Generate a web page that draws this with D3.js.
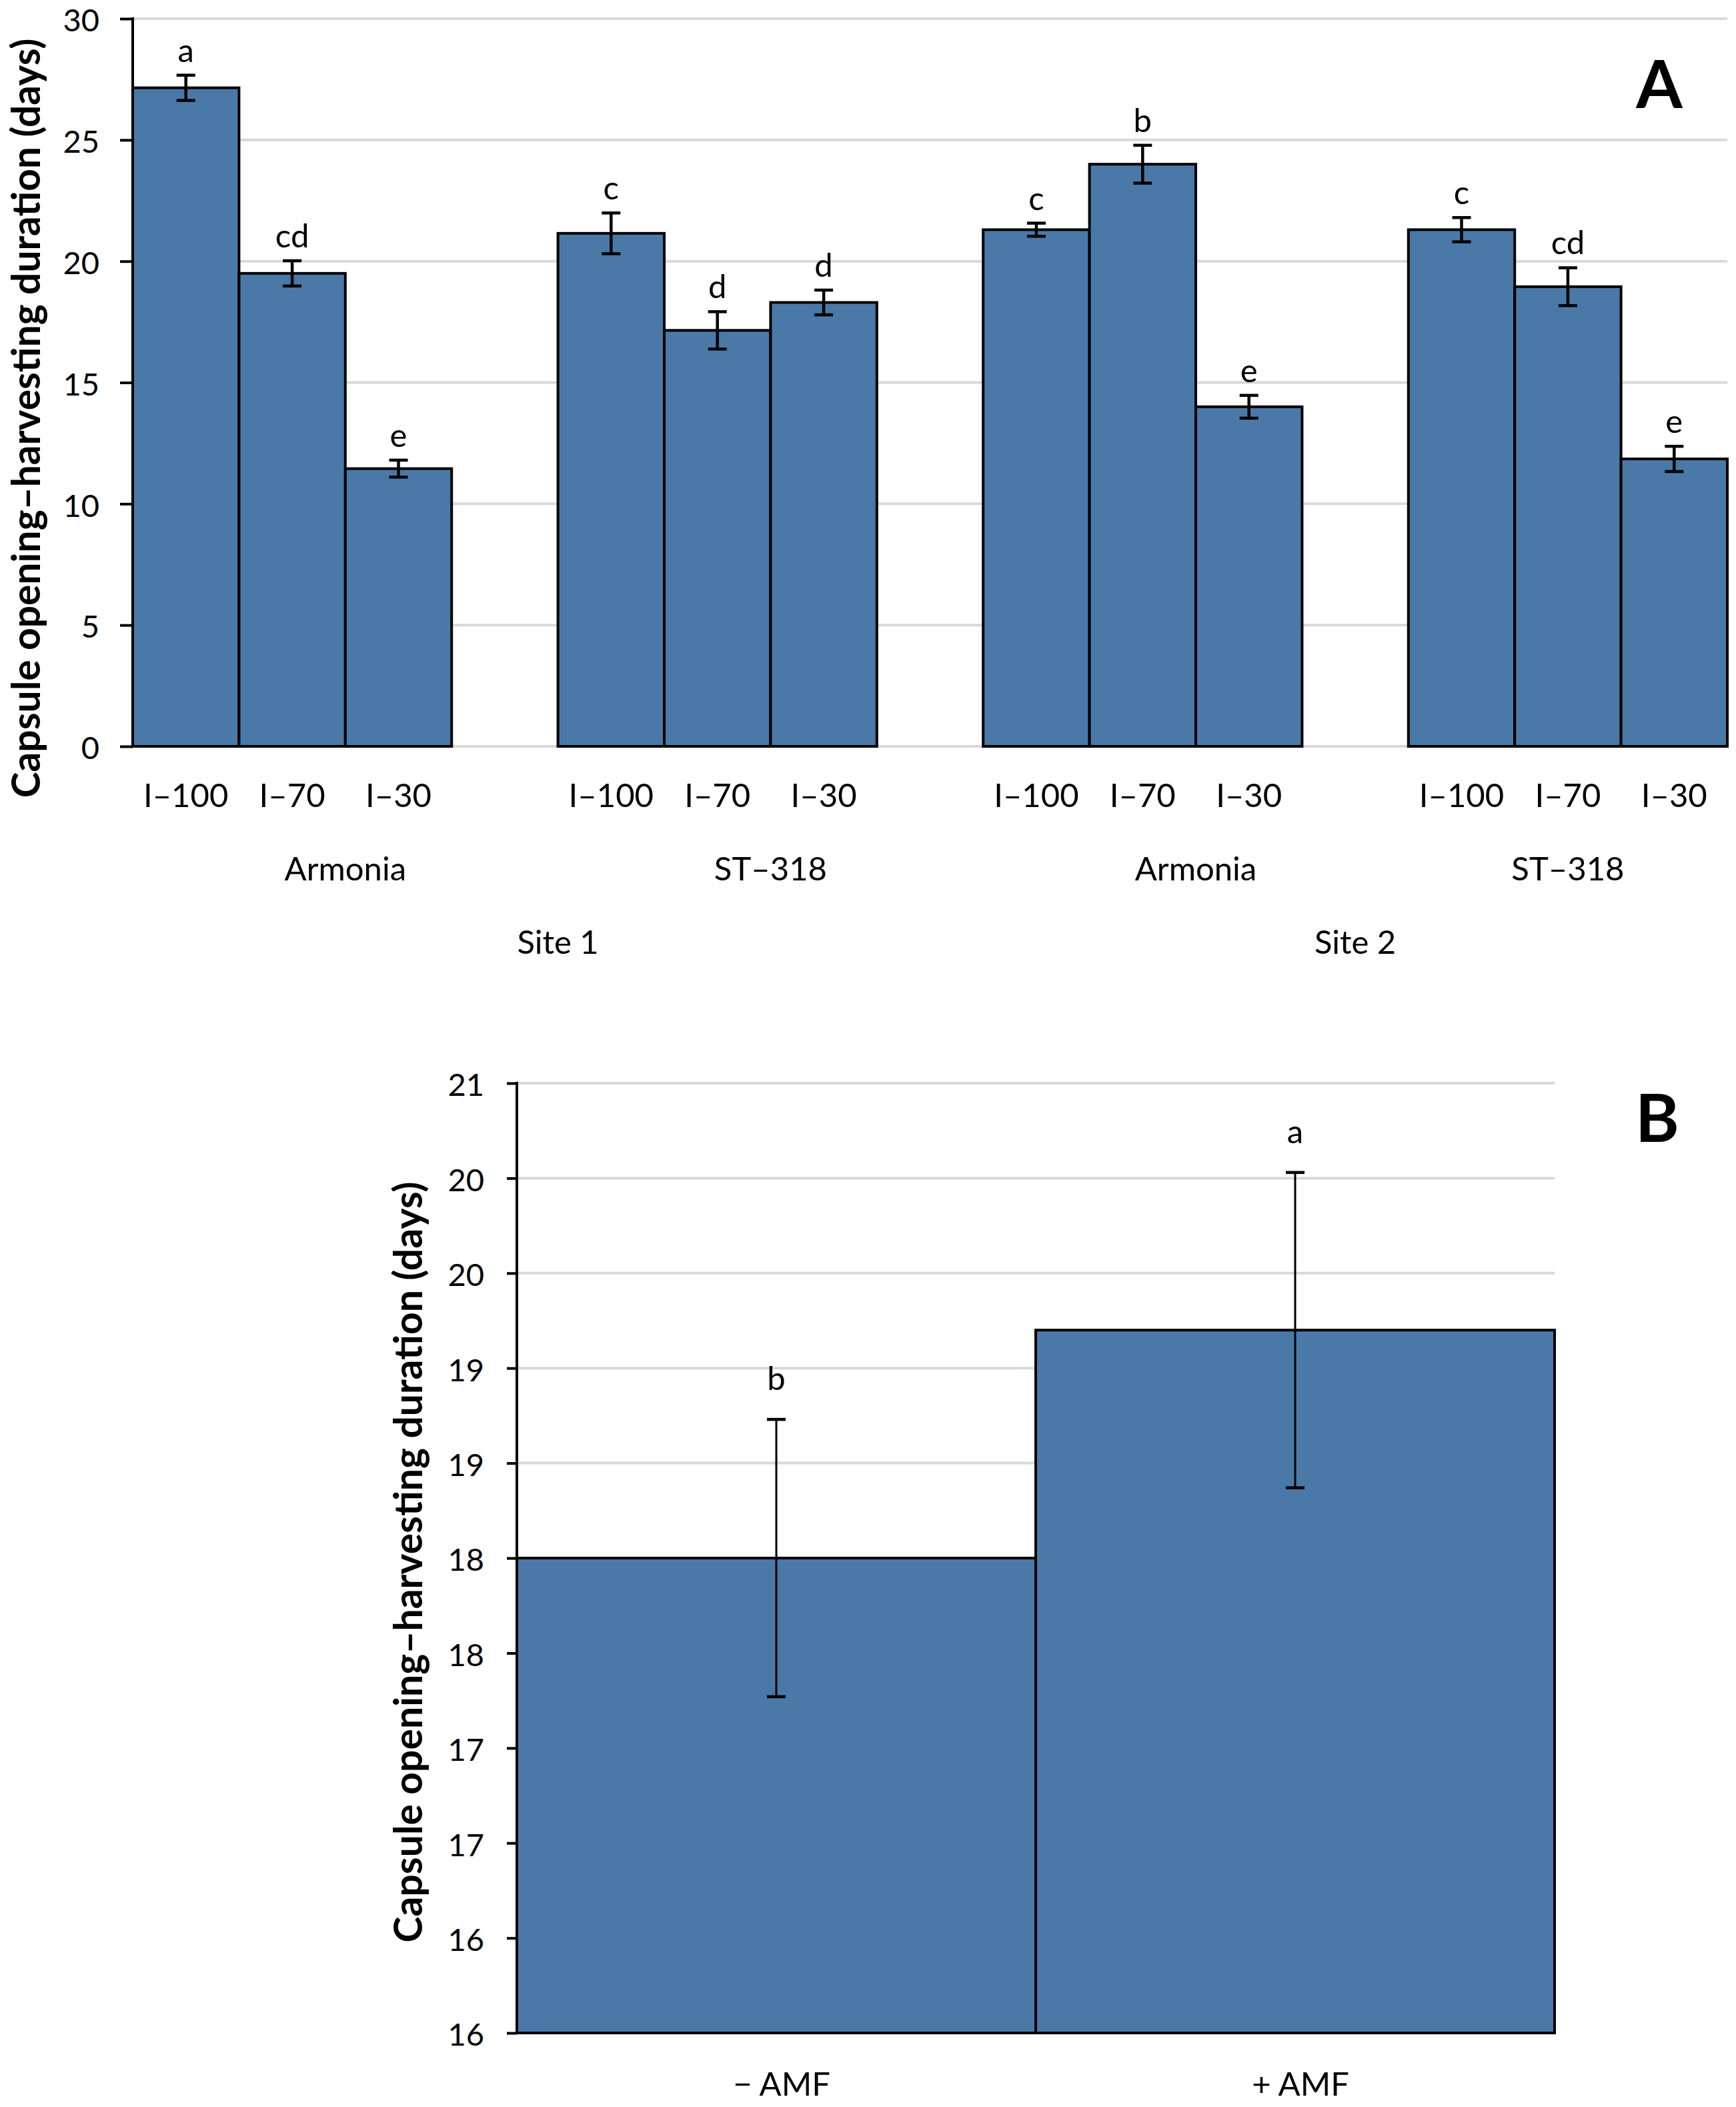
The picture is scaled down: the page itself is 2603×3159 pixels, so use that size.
<!DOCTYPE html>
<html>
<head>
    <meta charset="utf-8">
    <style>
        body {
            margin: 0;
            background-color: #FFF;
        }
        svg text {
            font-family: "Lato", "Open Sans", sans-serif;
            fill: #000;
        }
    </style>
</head>
<body>
<div id="chartArea"></div>
<script src="https://d3js.org/d3.v7.min.js"></script>

<script>
    /* -----------------------------------
        data
    ----------------------------------- */
    var sites = ["Site 1", "Site 2"];
    var varieties = ["Armonia", "ST–318"];
    var treatments = ["I–100", "I–70", "I–30"];

    // site 1 armonia, site 1 st-318, site 2 armonia, site 2 st-318
    var means = [27.15, 19.5, 11.45, 21.15, 17.15, 18.3, 21.3, 24.0, 14.0, 21.3, 18.95, 11.85];
    var errs = [0.52, 0.52, 0.35, 0.84, 0.77, 0.51, 0.27, 0.78, 0.47, 0.5, 0.78, 0.52];
    var letters = ["a", "cd", "e", "c", "d", "d", "c", "b", "e", "c", "cd", "e"];
    var yTicksA = [0, 5, 10, 15, 20, 25, 30];

    var amfGroups = ["− AMF", "+ AMF"];
    var amfMeans = [18.0, 19.2];
    var amfErrs = [0.73, 0.83];
    var amfLetters = ["b", "a"];
    var yTicksB = [15.5, 16, 16.5, 17, 17.5, 18, 18.5, 19, 19.5, 20, 20.5];

    var yTitle = "Capsule opening–harvesting duration (days)";

    /* -----------------------------------
        initialize
    ----------------------------------- */
    var width = 2603, height = 3159;
    var barFill = "#4a79a8", gridCol = "#d9d9d9";
    var labelSize = "49px";

    var svg = d3.select("#chartArea").append("svg")
        .attr("width", width)
        .attr("height", height)
        .attr("viewBox", "0 0 " + width + " " + height);

    svg.append("rect").attr("width", width).attr("height", height).attr("fill", "#fff");

    // bold rotated axis title, sized to span a given length
    function fitTitle(g, cx, cy, len) {
        var t = g.append("text")
            .attr("text-anchor", "middle")
            .style("font-weight", 700)
            .style("font-size", "50px")
            .text(yTitle);
        var fs = 50 * len / t.node().getComputedTextLength();
        var bx = cx + 0.27 * fs;
        t.style("font-size", fs + "px")
            .attr("transform", "translate(" + bx + "," + cy + ") rotate(-90)");
        // keep the text box inside the page
        var left = t.node().getBoundingClientRect().left;
        if (left < 2) {
            t.attr("transform", "translate(" + (bx + 2 - left) + "," + cy + ") rotate(-90)");
        }
    }

    function styleAxis(ax) {
        ax.select(".domain").remove();
        ax.selectAll(".tick line").attr("stroke", "#000").attr("stroke-width", 4);
        ax.selectAll(".tick text").style("font-size", "47px").attr("dy", "0.4em");
    }

    /* -----------------------------------
        panel A
    ----------------------------------- */
    var A = {left: 199, right: 2590, top: 28, bottom: 1119};

    // slots: 3 bars per variety and an empty slot between varieties
    var slots = [];
    sites.forEach(function(s, si) {
        varieties.forEach(function(v, vi) {
            treatments.forEach(function(t, ti) { slots.push(si + "|" + vi + "|" + ti); });
            if (!(si === sites.length - 1 && vi === varieties.length - 1)) slots.push("gap" + si + vi);
        });
    });

    var xA = d3.scaleBand().domain(slots).range([A.left, A.right]).padding(0);
    var yA = d3.scaleLinear().domain([0, 30]).range([A.bottom, A.top]);
    var bw = xA.bandwidth();

    var barsA = [];
    sites.forEach(function(s, si) {
        varieties.forEach(function(v, vi) {
            treatments.forEach(function(t, ti) {
                var i = si * 6 + vi * 3 + ti;
                barsA.push({key: si + "|" + vi + "|" + ti, label: t, mean: means[i], err: errs[i], letter: letters[i]});
            });
        });
    });

    var gA = svg.append("g");

    // gridlines
    gA.selectAll(".gridA").data(yTicksA).enter().append("line")
        .attr("x1", A.left).attr("x2", A.right)
        .attr("y1", function(d) { return yA(d); }).attr("y2", function(d) { return yA(d); })
        .attr("stroke", gridCol).attr("stroke-width", 4);

    // bars
    gA.selectAll(".barA").data(barsA).enter().append("rect")
        .attr("x", function(d) { return xA(d.key); })
        .attr("y", function(d) { return yA(d.mean); })
        .attr("width", bw)
        .attr("height", function(d) { return yA(0) - yA(d.mean); })
        .attr("fill", barFill).attr("stroke", "#000").attr("stroke-width", 4);

    // error bars
    var ebA = gA.selectAll(".ebA").data(barsA).enter().append("g")
        .attr("transform", function(d) { return "translate(" + (xA(d.key) + bw / 2) + ",0)"; })
        .attr("stroke", "#000").attr("stroke-width", 4.5);
    ebA.append("line").attr("y1", function(d) { return yA(d.mean + d.err); }).attr("y2", function(d) { return yA(d.mean - d.err); });
    ebA.append("line").attr("x1", -14).attr("x2", 14)
        .attr("y1", function(d) { return yA(d.mean + d.err); }).attr("y2", function(d) { return yA(d.mean + d.err); });
    ebA.append("line").attr("x1", -14).attr("x2", 14)
        .attr("y1", function(d) { return yA(d.mean - d.err); }).attr("y2", function(d) { return yA(d.mean - d.err); });

    // significance letters
    gA.selectAll(".letA").data(barsA).enter().append("text")
        .attr("x", function(d) { return xA(d.key) + bw / 2; })
        .attr("y", function(d) { return yA(d.mean + d.err) - 20; })
        .attr("text-anchor", "middle").style("font-size", labelSize)
        .text(function(d) { return d.letter; });

    // y axis
    var axA = gA.append("g").attr("transform", "translate(" + A.left + ",0)")
        .call(d3.axisLeft(yA).tickValues(yTicksA).tickSize(19).tickPadding(31));
    styleAxis(axA);
    gA.append("line").attr("x1", A.left).attr("x2", A.left).attr("y1", A.top - 2).attr("y2", A.bottom + 2)
        .attr("stroke", "#000").attr("stroke-width", 4);

    // category labels: treatments, varieties, sites
    gA.selectAll(".trtA").data(barsA).enter().append("text")
        .attr("x", function(d) { return xA(d.key) + bw / 2; })
        .attr("y", 1210)
        .attr("text-anchor", "middle").style("font-size", labelSize)
        .text(function(d) { return d.label; });

    var varLabels = [];
    sites.forEach(function(s, si) {
        varieties.forEach(function(v, vi) {
            var k = si * varieties.length + vi;
            var x0 = A.left + k * 4 * bw, x1 = Math.min(A.left + (k * 4 + 4) * bw, A.right);
            varLabels.push({label: v, cx: (x0 + x1) / 2});
        });
    });
    gA.selectAll(".varA").data(varLabels).enter().append("text")
        .attr("x", function(d) { return d.cx; }).attr("y", 1320)
        .attr("text-anchor", "middle").style("font-size", labelSize)
        .text(function(d) { return d.label; });

    gA.selectAll(".siteA").data(sites).enter().append("text")
        .attr("x", function(d, i) {
            var x0 = A.left + i * 8 * bw, x1 = Math.min(A.left + (i * 8 + 8) * bw, A.right);
            return (x0 + x1) / 2;
        })
        .attr("y", 1430)
        .attr("text-anchor", "middle").style("font-size", labelSize)
        .text(function(d) { return d; });

    fitTitle(gA, 40, 627, 1139);

    gA.append("text").attr("x", 2488).attr("y", 162).attr("text-anchor", "middle")
        .style("font-size", "100px").style("font-weight", 700).text("A");

    /* -----------------------------------
        panel B
    ----------------------------------- */
    var B = {left: 775, right: 2331, top: 1624, bottom: 3048};
    var xB = d3.scaleBand().domain(amfGroups).range([B.left, B.right]).padding(0);
    var yB = d3.scaleLinear().domain([15.5, 20.5]).range([B.bottom, B.top]);
    var bwB = xB.bandwidth();

    var barsB = amfGroups.map(function(g, i) {
        return {key: g, mean: amfMeans[i], err: amfErrs[i], letter: amfLetters[i]};
    });

    var gB = svg.append("g");

    gB.selectAll(".gridB").data(yTicksB).enter().append("line")
        .attr("x1", B.left).attr("x2", B.right)
        .attr("y1", function(d) { return yB(d); }).attr("y2", function(d) { return yB(d); })
        .attr("stroke", gridCol).attr("stroke-width", 4);

    gB.selectAll(".barB").data(barsB).enter().append("rect")
        .attr("x", function(d) { return xB(d.key); })
        .attr("y", function(d) { return yB(d.mean); })
        .attr("width", bwB)
        .attr("height", function(d) { return yB(15.5) - yB(d.mean); })
        .attr("fill", barFill).attr("stroke", "#000").attr("stroke-width", 4);

    var ebB = gB.selectAll(".ebB").data(barsB).enter().append("g")
        .attr("transform", function(d) { return "translate(" + (xB(d.key) + bwB / 2) + ",0)"; })
        .attr("stroke", "#000");
    ebB.append("line").attr("stroke-width", 3)
        .attr("y1", function(d) { return yB(d.mean + d.err); }).attr("y2", function(d) { return yB(d.mean - d.err); });
    ebB.append("line").attr("stroke-width", 4.5).attr("x1", -14).attr("x2", 14)
        .attr("y1", function(d) { return yB(d.mean + d.err); }).attr("y2", function(d) { return yB(d.mean + d.err); });
    ebB.append("line").attr("stroke-width", 4.5).attr("x1", -14).attr("x2", 14)
        .attr("y1", function(d) { return yB(d.mean - d.err); }).attr("y2", function(d) { return yB(d.mean - d.err); });

    gB.selectAll(".letB").data(barsB).enter().append("text")
        .attr("x", function(d) { return xB(d.key) + bwB / 2; })
        .attr("y", function(d) { return yB(d.mean + d.err) - 44; })
        .attr("text-anchor", "middle").style("font-size", labelSize)
        .text(function(d) { return d.letter; });

    var axB = gB.append("g").attr("transform", "translate(" + B.left + ",0)")
        .call(d3.axisLeft(yB).tickValues(yTicksB).tickSize(15).tickPadding(34)
            .tickFormat(function(d) { return Math.round(d); }));
    styleAxis(axB);
    gB.append("line").attr("x1", B.left).attr("x2", B.left).attr("y1", B.top - 2).attr("y2", B.bottom + 2)
        .attr("stroke", "#000").attr("stroke-width", 4);

    gB.selectAll(".catB").data(amfGroups).enter().append("text")
        .attr("x", function(d) { return xB(d) + bwB / 2 + 8; })
        .attr("y", 3142)
        .attr("text-anchor", "middle").style("font-size", labelSize)
        .text(function(d) { return d; });

    fitTitle(gB, 617, 2342, 1141);

    gB.append("text").attr("x", 2485).attr("y", 1712).attr("text-anchor", "middle")
        .style("font-size", "100px").style("font-weight", 700).text("B");
</script>
</body>
</html>
